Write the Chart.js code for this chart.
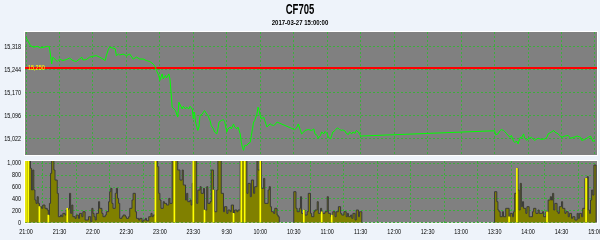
<!DOCTYPE html>
<html><head><meta charset="utf-8">
<script src="https://cdn.jsdelivr.net/npm/chart.js@4.4.1/dist/chart.umd.min.js"></script>
<style>
html,body{margin:0;padding:0;background:#eef3fa;overflow:hidden;}
#wrap{position:relative;width:600px;height:240px;}
canvas{position:absolute;left:0;}
</style></head><body>
<div id="wrap">
<canvas id="a" width="600" height="157" style="top:0"></canvas>
<canvas id="b" width="600" height="83" style="top:157px"></canvas>
</div>
<script>
const chartTitle = "CF705";
const chartSubtitle = "2017-03-27 15:00:00";
const timeTickLabels = ["21:00","21:30","22:00","22:30","23:00","23:30","9:30","10:00","10:30","11:00","11:30","12:00","12:30","13:00","13:30","14:00","14:30","15:00"];
const priceTicks = [15022,15096,15170,15244,15318];
const volTicks = [0,200,400,600,800,1000];
const refLevel = 15250;

// minutes since 21:00 on the session time axis (night 21:00-23:30 joins day 9:00)
const priceMinutes = [
 0,1,4,7,10,13,16,19,21,23,
 24,28,30,33,36,39,42,45,48,50,
 51,54,57,60,63,66,69,71,72,74,
 75,78,80,81,83,84,87,90,93,96,
 99,102,105,108,111,114,116,117,119,120,
 122,123,125,126,128,129,130,131,134,136,
 137,140,141,143,144,146,147,149,150,151,
 152,154,155,156,158,159,160,162,163,165,
 166,168,169,171,172,173,175,177,178,180,
 181,183,184,186,187,189,190,192,193,194,
 195,196,198,199,201,202,203,204,205,207,
 208,209,210,211,213,214,216,217,219,220,
 222,223,225,240,241,243,244,246,247,249,
 250,253,256,258,259,261,262,264,265,267,
 268,270,271,273,274,275,277,279,280,281,
 283,284,286,287,289,290,292,293,295,296,
 298,300,420,421,423,425,426,428,429,431,
 432,434,435,437,438,440,441,443,444,446,
 447,449,450,453,456,459,462,465,467,468,
 471,473,474,477,480,483,486,488,491,494,
 497,498,501,504,506,508,510];
const priceValues = [
 15348,15342,15322,15317,15320,15315,15317,15320,15317,15263,
 15285,15271,15279,15274,15277,15282,15274,15271,15279,15285,
 15276,15277,15285,15288,15290,15285,15279,15274,15290,15312,
 15317,15314,15312,15290,15295,15292,15295,15290,15295,15279,
 15285,15279,15279,15274,15271,15263,15253,15242,15226,15210,
 15231,15215,15226,15218,15231,15215,15172,15124,15113,15092,
 15140,15118,15127,15118,15124,15118,15127,15118,15086,15108,
 15076,15049,15060,15097,15102,15108,15113,15102,15097,15081,
 15065,15054,15044,15038,15054,15076,15081,15084,15078,15044,
 15054,15060,15054,15070,15060,15054,15060,15038,15011,14995,
 14985,15001,15001,15006,15011,15033,15054,15076,15081,15102,
 15124,15113,15097,15086,15092,15081,15060,15065,15070,15067,
 15065,15067,15076,15053,15051,15060,15070,15049,15038,15044,
 15049,15052,15049,15054,15038,15033,15024,15033,15044,15038,
 15046,15038,15027,15022,15033,15044,15049,15057,15056,15052,
 15049,15051,15047,15040,15036,15044,15038,15044,15040,15049,
 15044,15031,15048,15035,15038,15049,15052,15049,15046,15038,
 15033,15027,15033,15014,15011,15014,15006,15027,15024,15038,
 15024,15017,15022,15027,15017,15024,15020,15022,15027,15038,
 15044,15049,15044,15038,15027,15031,15033,15024,15027,15031,
 15027,15017,15020,15027,15031,15014,15017];

const volMinutes = [
 0,0,3,4,5,6,7,8,9,10,
 11,12,13,14,15,17,19,20,21,22,
 23,25,26,28,29,31,32,33,35,36,
 38,39,40,41,42,44,45,47,48,50,
 51,53,56,58,59,60,61,62,63,65,
 66,68,69,71,72,74,75,76,77,78,
 80,81,82,83,84,86,87,89,90,92,
 93,95,96,98,99,101,102,104,105,107,
 108,110,112,113,114,116,117,118,119,120,
 121,123,124,126,128,129,131,135,136,138,
 140,141,143,144,145,147,148,149,150,152,
 153,154,156,157,159,160,162,163,165,166,
 168,169,171,172,175,177,178,180,181,183,
 184,186,187,189,190,192,196,198,199,201,
 202,204,205,207,208,210,211,213,214,217,
 218,219,220,222,223,225,226,227,233,
 240,240,242,243,245,246,247,249,250,252,
 253,255,256,258,259,261,262,264,265,266,
 268,270,271,273,274,275,277,278,280,282,
 283,285,287,288,289,291,292,293,295,296,
 298,299,300,301,360,
 420,420,422,423,424,425,427,428,430,431,
 433,434,436,437,438,440,441,442,443,444,
 445,446,448,449,451,452,454,455,457,459,
 460,463,464,466,467,468,470,471,472,473,
 474,476,477,478,480,481,483,484,486,487,
 489,490,492,494,495,496,498,499,501,503,
 504,505,506,507,508,509,510,511];
const volValues = [
 0,1100,1100,916,551,888,551,382,326,438,
 326,270,270,242,298,242,214,129,326,832,
 1100,888,719,495,101,129,101,157,129,214,
 242,495,157,298,101,73,129,73,157,101,
 185,45,101,17,242,157,101,45,157,354,
 242,157,101,129,185,354,523,579,326,242,
 495,579,410,326,73,101,129,101,73,101,
 242,382,495,185,73,45,73,17,45,73,
 33,101,157,101,129,1100,1100,944,495,382,
 242,354,326,298,410,326,1100,1100,888,719,
 888,635,382,495,354,382,298,663,1100,1100,
 326,550,607,495,579,213,607,326,354,888,
 551,185,551,1100,495,185,270,157,214,185,
 298,157,214,185,214,1100,1100,495,663,438,
 719,495,607,1100,888,1100,579,747,326,551,
 607,270,185,157,242,129,101,0,null,
 0,523,242,185,242,438,157,214,129,185,
 495,157,101,185,214,354,157,242,185,157,
 185,438,157,101,129,185,101,185,270,157,
 129,185,101,157,101,129,73,157,45,214,
 101,185,185,0,null,
 0,523,354,214,185,101,185,101,242,242,
 101,157,101,185,495,916,551,214,663,270,
 354,242,157,270,101,101,185,242,157,214,
 157,185,101,185,185,382,438,382,495,214,
 326,185,157,270,354,242,157,185,101,157,
 73,101,45,157,73,157,101,242,747,776,
 214,157,382,551,466,972,972,0];

const upMinutes = [0,2,12,20,37,116,133,150,160,168,186,193,196,210,249,265,274,433,440,467,502];
const upValues  = [1100,1100,270,129,242,1100,1100,1100,213,551,157,1100,1100,1100,214,185,129,101,916,185,747];

const FONT = "'Liberation Sans','DejaVu Sans',sans-serif";
const GRID = '#3cae3c';
const X_MIN = -0.9, X_MAX = 511.8;
const NARROW = 0.78;

function narrowText(ctx, text, x, y, align, font, color, sx) {
  ctx.save();
  ctx.font = font; ctx.fillStyle = color;
  ctx.textBaseline = 'middle'; ctx.textAlign = align;
  ctx.translate(x, y); ctx.scale(sx, 1);
  ctx.fillText(text, 0, 0);
  ctx.restore();
}

const panelBg = {
  id: 'panelBg',
  beforeDraw(chart) {
    const {ctx, chartArea: a} = chart;
    ctx.save();
    ctx.fillStyle = '#808080';
    ctx.fillRect(a.left, a.top, a.right - a.left, a.bottom - a.top);
    ctx.strokeStyle = '#ffffff';
    ctx.lineWidth = 1;
    ctx.strokeRect(a.left - 0.5, a.top - 0.5, a.right - a.left + 1, a.bottom - a.top + 1);
    ctx.restore();
  }
};
// tick labels drawn at the library's scale positions, in a narrow face
const tickText = {
  id: 'tickText',
  afterDraw(chart, args, opts) {
    const {ctx, chartArea: a, scales} = chart;
    scales.y.ticks.forEach(t => {
      narrowText(ctx, Number(t.value).toLocaleString('en-US'), a.left - 4,
        scales.y.getPixelForValue(t.value), 'right', '7px ' + FONT, '#000', NARROW);
    });
    if (opts.xLabels) {
      scales.x.ticks.forEach((t, i) => {
        narrowText(ctx, timeTickLabels[i], scales.x.getPixelForValue(t.value),
          a.bottom + 9, 'center', '7px ' + FONT, '#000', NARROW);
      });
    }
    if (opts.title) {
      const cx = (a.left + a.right) / 2 - 11;
      narrowText(ctx, chartTitle, 300, 10, 'center', 'bold 14px ' + FONT, '#000', 0.68);
      narrowText(ctx, chartSubtitle, 300, 23.5, 'center', 'bold 7px ' + FONT, '#000', 0.86);
    }
  }
};
const refLine = {
  id: 'refLine',
  beforeDatasetsDraw(chart) {
    const {ctx, chartArea: a, scales} = chart;
    const y = scales.y.getPixelForValue(refLevel);
    ctx.save();
    ctx.strokeStyle = '#ff0000';
    ctx.lineWidth = 2;
    ctx.beginPath(); ctx.moveTo(a.left, y); ctx.lineTo(a.right, y); ctx.stroke();
    ctx.restore();
  },
  afterDatasetsDraw(chart) {
    const {ctx, chartArea: a, scales} = chart;
    const y = scales.y.getPixelForValue(refLevel);
    narrowText(ctx, refLevel.toLocaleString('en-US'), a.left + 3, y, 'left', '7px ' + FONT, '#ffff00', NARROW);
  }
};

function xScale() {
  return {
    type: 'linear', min: X_MIN, max: X_MAX, offset: false,
    afterBuildTicks: s => { s.ticks = timeTickLabels.map((l, i) => ({value: i * 30})); },
    afterFit: s => { s.height = 0; s.paddingLeft = 0; s.paddingRight = 0; },
    grid: {color: GRID, lineWidth: 1, drawTicks: false},
    border: {display: false, dash: [2, 2]},
    ticks: {display: false}
  };
}
function yScale(min, max, ticks) {
  return {
    min, max,
    afterBuildTicks: s => { s.ticks = ticks.map(v => ({value: v})); },
    afterFit: s => { s.width = 25; s.paddingTop = 0; s.paddingBottom = 0; },
    grid: {color: GRID, lineWidth: 1, drawTicks: false},
    border: {display: false, dash: [2, 2]},
    ticks: {display: false}
  };
}

new Chart(document.getElementById('a'), {
  type: 'line',
  data: {datasets: [{
    data: priceMinutes.map((t, i) => ({x: t, y: priceValues[i]})),
    borderColor: '#00ff00', borderWidth: 1, pointRadius: 0, tension: 0, fill: false
  }]},
  options: {
    responsive: false, animation: false, devicePixelRatio: 1,
    layout: {padding: {left: 0, right: 3, top: 32, bottom: 2}},
    plugins: {legend: {display: false}, tooltip: {enabled: false}, tickText: {title: true, xLabels: false}},
    scales: {x: xScale(), y: yScale(14970, 15366, priceTicks)}
  },
  plugins: [panelBg, refLine, tickText]
});

new Chart(document.getElementById('b'), {
  type: 'line',
  data: {datasets: [
    {type: 'bar', data: upMinutes.map((t, i) => ({x: t, y: upValues[i]})),
      backgroundColor: '#ffff00', barThickness: 1, borderWidth: 0},
    {data: volMinutes.map((t, i) => ({x: t, y: volValues[i]})),
      stepped: 'before', fill: 'origin', backgroundColor: '#808000',
      borderColor: '#3a3a3a', borderWidth: 1, pointRadius: 0, spanGaps: false}
  ]},
  options: {
    responsive: false, animation: false, devicePixelRatio: 1,
    layout: {padding: {left: 0, right: 3, top: 4, bottom: 17.3}},
    plugins: {legend: {display: false}, tooltip: {enabled: false}, tickText: {title: false, xLabels: true}},
    scales: {x: xScale(), y: yScale(0, 1040, volTicks)}
  },
  plugins: [panelBg, tickText]
});
</script>
</body></html>
